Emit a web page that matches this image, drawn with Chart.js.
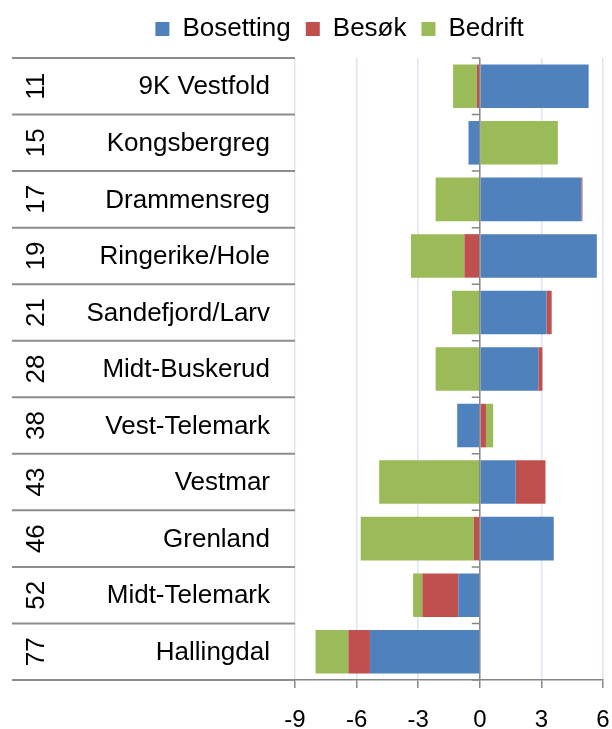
<!DOCTYPE html>
<html>
<head>
<meta charset="utf-8">
<script src="https://cdn.jsdelivr.net/npm/chart.js@4/dist/chart.umd.min.js"></script>
<style>
  html, body { margin: 0; padding: 0; background: #fff; }
  canvas { display: block; }
</style>
</head>
<body>
<canvas id="chartRegioner" width="612" height="729"></canvas>
<script>
// Regioner (kode + navn) og bidrag per komponent
const koder = ['11', '15', '17', '19', '21', '28', '38', '43', '46', '52', '77'];
const regioner = ['9K Vestfold', 'Kongsbergreg', 'Drammensreg', 'Ringerike/Hole', 'Sandefjord/Larv',
    'Midt-Buskerud', 'Vest-Telemark', 'Vestmar', 'Grenland', 'Midt-Telemark', 'Hallingdal'];
const bosetting = [5.3, -0.55, 4.95, 5.7, 3.25, 2.85, -1.1, 1.75, 3.6, -1.05, -5.35];
const besok = [-0.15, 0, 0.05, -0.75, 0.25, 0.2, 0.3, 1.45, -0.3, -1.75, -1.05];
const bedrift = [-1.15, 3.8, -2.15, -2.6, -1.35, -2.15, 0.35, -4.9, -5.5, -0.45, -1.6];
const akseVerdier = [-9, -6, -3, 0, 3, 6];

const FONT = '"Liberation Sans", Arial, sans-serif';
const GRAA = '#868686';

// litt ekstra luft under legenden
const legendeLuft = {
    id: 'legendeLuft',
    beforeInit(chart) {
        const fit = chart.legend.fit;
        chart.legend.fit = function() {
            fit.bind(chart.legend)();
            this.height += 6;
        };
    }
};

// tabellen til venstre: skillelinjer, koder (rotert) og navn
const tabell = {
    id: 'tabell',
    afterDraw(chart) {
        const ctx = chart.ctx;
        const y = chart.scales.y;
        const x = chart.scales.x;
        const area = chart.chartArea;
        const grenser = [area.top];
        for (let i = 0; i < regioner.length - 1; i++) {
            grenser.push((y.getPixelForValue(i) + y.getPixelForValue(i + 1)) / 2);
        }
        grenser.push(area.bottom);

        ctx.save();
        ctx.strokeStyle = '#8c8c8c';
        ctx.lineWidth = 2;
        grenser.forEach(g => {
            ctx.beginPath();
            ctx.moveTo(12, g);
            ctx.lineTo(area.left, g);
            ctx.stroke();
        });

        ctx.fillStyle = '#000';
        ctx.font = '26px ' + FONT;
        regioner.forEach((navn, i) => {
            const yc = y.getPixelForValue(i);
            ctx.textAlign = 'right';
            ctx.textBaseline = 'middle';
            ctx.fillText(navn, 270, yc + 1);

            ctx.save();
            ctx.translate(36, yc);
            ctx.rotate(-Math.PI / 2);
            ctx.textAlign = 'center';
            ctx.fillText(koder[i], 0, 1);
            ctx.restore();
        });

        // nullinje med små streker mot venstre
        const x0 = x.getPixelForValue(0);
        ctx.strokeStyle = GRAA;
        ctx.lineWidth = 1.5;
        ctx.beginPath();
        ctx.moveTo(x0, area.top);
        ctx.lineTo(x0, area.bottom);
        grenser.forEach(g => {
            ctx.moveTo(x0 - 8, g);
            ctx.lineTo(x0, g);
        });
        ctx.stroke();
        ctx.restore();
    }
};

new Chart(document.getElementById('chartRegioner'), {
    type: 'bar',
    data: {
        labels: regioner,
        datasets: [
            { label: 'Bosetting', data: bosetting, backgroundColor: '#4f81bd', borderWidth: 0 },
            { label: 'Besøk', data: besok, backgroundColor: '#c0504d', borderWidth: 0 },
            { label: 'Bedrift', data: bedrift, backgroundColor: '#9bbb59', borderWidth: 0 }
        ]
    },
    options: {
        indexAxis: 'y',
        responsive: false,
        animation: false,
        devicePixelRatio: 1,
        layout: { padding: { left: 76, top: 1, right: 9, bottom: 0 } },
        datasets: { bar: { categoryPercentage: 1, barPercentage: 0.77 } },
        plugins: {
            legend: {
                position: 'top',
                labels: {
                    boxWidth: 14,
                    boxHeight: 14,
                    padding: 15,
                    color: '#000',
                    font: { family: FONT, size: 26 }
                }
            },
            tooltip: { enabled: false }
        },
        scales: {
            x: {
                stacked: true,
                min: akseVerdier[0],
                max: akseVerdier[akseVerdier.length - 1],
                afterBuildTicks: s => { s.ticks = akseVerdier.map(v => ({ value: v })); },
                afterFit: s => {
                    s.height = 49;
                    s.paddingLeft = 0;
                    s.paddingRight = 0;
                },
                grid: {
                    color: c => c.tick && c.tick.value === 0 ? 'rgba(0,0,0,0)' : '#dce6f2',
                    lineWidth: 1.5,
                    drawTicks: true,
                    tickLength: 8,
                    tickColor: GRAA
                },
                border: { color: GRAA, width: 1.5 },
                ticks: {
                    padding: 18,
                    color: '#000',
                    font: { family: FONT, size: 24 }
                }
            },
            y: {
                stacked: true,
                grid: { display: false },
                border: { display: false },
                ticks: { display: false },
                afterFit: s => { s.width = 219; }
            }
        }
    },
    plugins: [legendeLuft, tabell]
});
</script>
</body>
</html>
